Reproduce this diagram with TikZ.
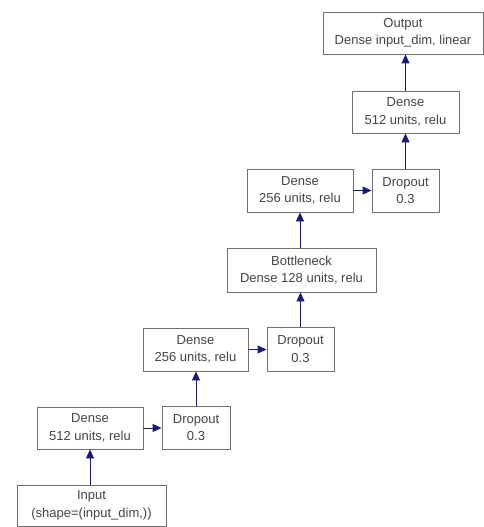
\documentclass[tikz,border=0pt]{standalone}
\usepackage{fontspec}
\setmainfont{Liberation Sans}
\usetikzlibrary{arrows.meta}
\definecolor{boxline}{HTML}{707070}
\definecolor{txt}{HTML}{444444}
\definecolor{arrc}{HTML}{1A1A7A}
\begin{document}
\begin{tikzpicture}[x=1pt,y=-1pt,
  layer/.style={draw=boxline, line width=0.9pt, fill=white, text=txt, align=center,
    inner sep=0pt, font=\fontsize{13}{17.5}\selectfont},
  arr/.style={draw=arrc, line width=0.9pt, -{Triangle[length=9pt,width=8pt]}}]
\useasboundingbox (0,0) rectangle (484,527);
\fill[white] (0,0) rectangle (484,527);
\node[layer, minimum width=160pt, minimum height=42pt] (out) at (403,33) {Output\\Dense input\_dim, linear};
\node[layer, minimum width=107pt, minimum height=42pt] (dtop) at (405.5,112) {Dense\\512 units, relu};
\node[layer, minimum width=106pt, minimum height=43pt] (dmt) at (300,190.5) {Dense\\256 units, relu};
\node[layer, minimum width=67pt, minimum height=43pt] (dot) at (405.5,190.5) {Dropout\\0.3};
\node[layer, minimum width=149pt, minimum height=44pt] (bn) at (301.5,270) {Bottleneck\\Dense 128 units, relu};
\node[layer, minimum width=105pt, minimum height=43pt] (dmb) at (195.5,349.5) {Dense\\256 units, relu};
\node[layer, minimum width=67pt, minimum height=44pt] (dom) at (300.5,349) {Dropout\\0.3};
\node[layer, minimum width=106pt, minimum height=42pt] (dbot) at (90,428) {Dense\\512 units, relu};
\node[layer, minimum width=68pt, minimum height=43pt] (dob) at (196,427.5) {Dropout\\0.3};
\node[layer, minimum width=149pt, minimum height=41pt] (inp) at (91.5,505.5) {Input\\(shape=(input\_dim,))};
\draw[arr] (inp.north -| dbot.south) -- (dbot.south);
\draw[arr] (dbot.east) -- (dbot.east -| dob.west);
\draw[arr] (dob.north) -- (dob.north |- dmb.south);
\draw[arr] (dmb.east) -- (dmb.east -| dom.west);
\draw[arr] (dom.north) -- (dom.north |- bn.south);
\draw[arr] (bn.north -| dmt.south) -- (dmt.south);
\draw[arr] (dmt.east) -- (dmt.east -| dot.west);
\draw[arr] (dot.north) -- (dot.north |- dtop.south);
\draw[arr] (dtop.north) -- (dtop.north |- out.south);
\end{tikzpicture}
\end{document}
